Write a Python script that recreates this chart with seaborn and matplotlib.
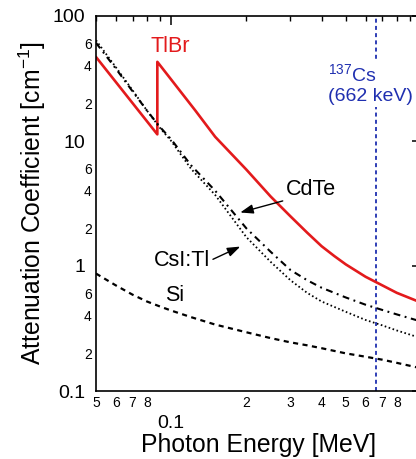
import matplotlib
matplotlib.use("Agg")
import matplotlib.pyplot as plt
import seaborn as sns
import pandas as pd
from matplotlib.ticker import FixedLocator, FixedFormatter

# ---------------- data ----------------
energy = [0.05, 0.06, 0.07, 0.08, 0.09, 0.10, 0.12, 0.15, 0.20, 0.25, 0.30,
          0.35, 0.40, 0.50, 0.60, 0.70, 0.80, 1.00]
cdte = [61, 38, 25, 17.5, 13.0, 10.3, 6.4, 4.0, 2.0, 1.3, 0.93,
        0.77, 0.67, 0.56, 0.49, 0.445, 0.41, 0.36]
csi = [64, 39, 25.5, 17.5, 12.8, 10.0, 6.0, 3.7, 1.7, 1.08, 0.77,
       0.61, 0.52, 0.43, 0.37, 0.335, 0.305, 0.265]
si = [0.87, 0.70, 0.59, 0.52, 0.475, 0.44, 0.39, 0.34, 0.295, 0.265, 0.245,
      0.232, 0.22, 0.20, 0.188, 0.178, 0.168, 0.152]

tlbr_energy = [0.05, 0.088, 0.088, 0.10, 0.125, 0.15, 0.20, 0.25, 0.30, 0.35,
               0.40, 0.45, 0.50, 0.60, 0.70, 0.80, 1.00]
tlbr = [47, 11.3, 43, 31, 17.5, 10.8, 5.9, 3.6, 2.5, 1.85,
        1.44, 1.2, 1.03, 0.82, 0.70, 0.61, 0.51]

cs137_energy = 0.662

x_major = [0.1, 1.0]
x_major_labels = ["0.1", "1"]
x_minor = [0.05, 0.06, 0.07, 0.08, 0.09, 0.2, 0.3, 0.4, 0.5, 0.6, 0.7, 0.8, 0.9]
x_minor_labels = ["5", "6", "7", "8", "", "2", "3", "4", "5", "6", "7", "8", ""]
y_major = [0.1, 1, 10, 100]
y_major_labels = ["0.1", "1", "10", "100"]
y_minor_mult = [2, 3, 4, 5, 6, 7, 8, 9]
y_minor_mult_labels = ["2", "", "4", "", "6", "", "", ""]
y_decades = [0.1, 1, 10]

RED = "#e31a1c"
BLUE = "#1f2fb0"

# ---------------- style ----------------
sns.set_theme(style="white")
plt.rcParams["font.family"] = ["Liberation Sans", "DejaVu Sans"]
plt.rcParams["mathtext.fontset"] = "custom"
plt.rcParams["mathtext.rm"] = "Liberation Sans"
plt.rcParams["mathtext.it"] = "Liberation Sans:italic"
plt.rcParams["mathtext.bf"] = "Liberation Sans:bold"
for k in ["axes.edgecolor", "text.color", "axes.labelcolor", "xtick.color", "ytick.color"]:
    plt.rcParams[k] = "black"

fig = plt.figure(figsize=(4.16, 4.59), dpi=100)
ax = fig.add_axes([96 / 416, 68 / 459, 325 / 416, 375 / 459])
ax.set_xscale("log")
ax.set_yscale("log")

df_main = pd.DataFrame({"E": energy, "CdTe": cdte, "CsI": csi, "Si": si})
df_tl = pd.DataFrame({"E": tlbr_energy, "TlBr": tlbr})

sns.lineplot(data=df_tl, x="E", y="TlBr", ax=ax, color=RED, lw=1.9,
             estimator=None, sort=False)
sns.lineplot(data=df_main, x="E", y="CdTe", ax=ax, color="black", lw=1.5,
             linestyle=(0, (3.3, 2.2, 0.9, 2.2)), estimator=None, sort=False)
sns.lineplot(data=df_main, x="E", y="CsI", ax=ax, color="black", lw=1.3,
             linestyle=(0, (0.9, 1.4)), estimator=None, sort=False)
sns.lineplot(data=df_main, x="E", y="Si", ax=ax, color="black", lw=1.6,
             linestyle=(0, (2.3, 2.0)), estimator=None, sort=False)
ax.axvline(cs137_energy, color=BLUE, lw=1.3, linestyle=(0, (2.2, 1.8)), zorder=1.5)

ax.set_xlim(0.05, 1.0)
ax.set_ylim(0.1, 100)

# ticks
ax.xaxis.set_major_locator(FixedLocator(x_major))
ax.xaxis.set_major_formatter(FixedFormatter(x_major_labels))
ax.xaxis.set_minor_locator(FixedLocator(x_minor))
ax.xaxis.set_minor_formatter(FixedFormatter(x_minor_labels))
y_minor = [m * d for d in y_decades for m in y_minor_mult]
y_minor_labels = [lab for d in y_decades for lab in y_minor_mult_labels]
ax.yaxis.set_major_locator(FixedLocator(y_major))
ax.yaxis.set_major_formatter(FixedFormatter(y_major_labels))
ax.yaxis.set_minor_locator(FixedLocator(y_minor))
ax.yaxis.set_minor_formatter(FixedFormatter(y_minor_labels))

ax.tick_params(which="major", direction="in", length=6.5, width=1.1,
               top=True, right=True, labelsize=14)
ax.tick_params(which="minor", direction="in", length=3.3, width=1.0,
               top=True, right=True, labelsize=10)
ax.tick_params(axis="x", which="major", pad=17)
ax.tick_params(axis="x", which="minor", pad=3.5)
ax.tick_params(axis="y", which="major", pad=8)
ax.tick_params(axis="y", which="minor", pad=3)
for s in ax.spines.values():
    s.set_linewidth(1.2)
    s.set_color("black")

ax.set_xlabel("Photon Energy [MeV]", fontsize=17.8)
ax.set_ylabel(r"Attenuation Coefficient [cm$\mathregular{^{-1}}$]", fontsize=17.8)
ax.xaxis.set_label_coords(0.5, -0.112)
ax.yaxis.set_label_coords(-0.148, 0.5)

# annotations
ax.text(0.099, 57, "TlBr", color=RED, fontsize=15.5, ha="center", va="center")
ax.text(0.1033, 0.578, "Si", fontsize=15.5, ha="center", va="center")
arrow = dict(arrowstyle="-|>,head_length=0.5,head_width=0.18", color="black",
             lw=1.0, shrinkA=0, shrinkB=0)
ax.annotate("CdTe", xy=(0.189, 2.68), xytext=(0.363, 4.09), fontsize=15.5,
            ha="center", va="center",
            arrowprops=dict(arrow, relpos=(0, 0)))
ax.annotate("CsI:Tl", xy=(0.189, 1.43), xytext=(0.110, 1.10), fontsize=15.5,
            ha="center", va="center",
            arrowprops=dict(arrow, relpos=(1, 0.5)))
box = dict(boxstyle="square,pad=0.12", fc="white", ec="none")
ax.text(0.425, 30.1, r"$\mathregular{^{137}}$Cs", color=BLUE, fontsize=14,
        ha="left", va="baseline", bbox=box, zorder=4)
ax.text(0.425, 20.97, "(662 keV)", color=BLUE, fontsize=14,
        ha="left", va="baseline", bbox=box, zorder=4)

fig.savefig("out.png", dpi=100)
